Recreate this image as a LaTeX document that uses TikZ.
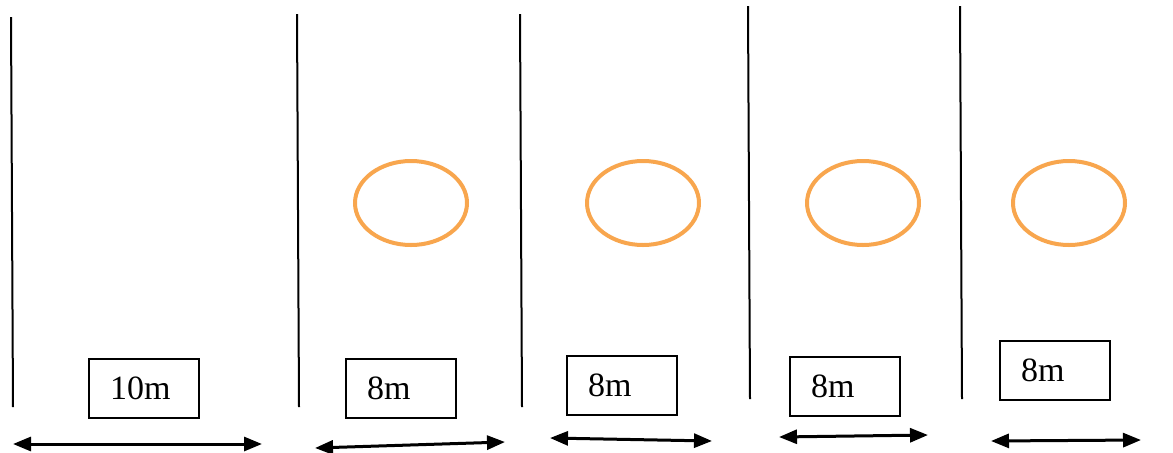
\documentclass[tikz,border=0pt]{standalone}
\usepackage{fontspec}
\setmainfont{Liberation Serif}
\usetikzlibrary{arrows.meta}
\definecolor{ringorange}{RGB}{248,166,78}
\begin{document}
\begin{tikzpicture}[x=0.5pt,y=-0.5pt,>={Triangle[length=9pt,width=7pt]},
	lenbox/.style={draw,line width=0.8pt,minimum width=55pt,minimum height=29.5pt,
		inner xsep=10.5pt,text width=34pt,align=left,font=\fontsize{17}{20}\selectfont},
	ring/.style={draw=ringorange,line width=2pt}]
	\useasboundingbox (0,0) rectangle (1173,452);
	% lane lines
	\foreach \xa/\ya/\xb/\yb in {11/17/13/407,297/14/299/407,520/14/522/407,748/6/750/399,960/6/962/399}
		\draw[line width=1pt] (\xa,\ya) -- (\xb,\yb);
	% rings
	\foreach \cx in {411,643,863,1069}
		\draw[ring] (\cx,203) ellipse (56 and 42);
	% length boxes
	\node[lenbox] (b1) at (144,388.5) {10m};
	\node[lenbox] (b2) at (401,388.5) {8m};
	\node[lenbox] (b3) at (622,385.5) {8m};
	\node[lenbox] (b4) at (845,386.5) {8m};
	\node[lenbox] (b5) at (1055,370.5) {8m};
	% arrows
	\coordinate (a1l) at (13,444);  \coordinate (a1r) at (262,444);
	\coordinate (a2l) at (315,448); \coordinate (a2r) at (505,442);
	\coordinate (a3l) at (550,438); \coordinate (a3r) at (712,441);
	\coordinate (a4l) at (779,437); \coordinate (a4r) at (928,435);
	\coordinate (a5l) at (991,441); \coordinate (a5r) at (1141,440);
	\foreach \i in {1,...,5}
		\draw[<->,line width=1.5pt] (a\i l) -- (a\i r);
\end{tikzpicture}
\end{document}
